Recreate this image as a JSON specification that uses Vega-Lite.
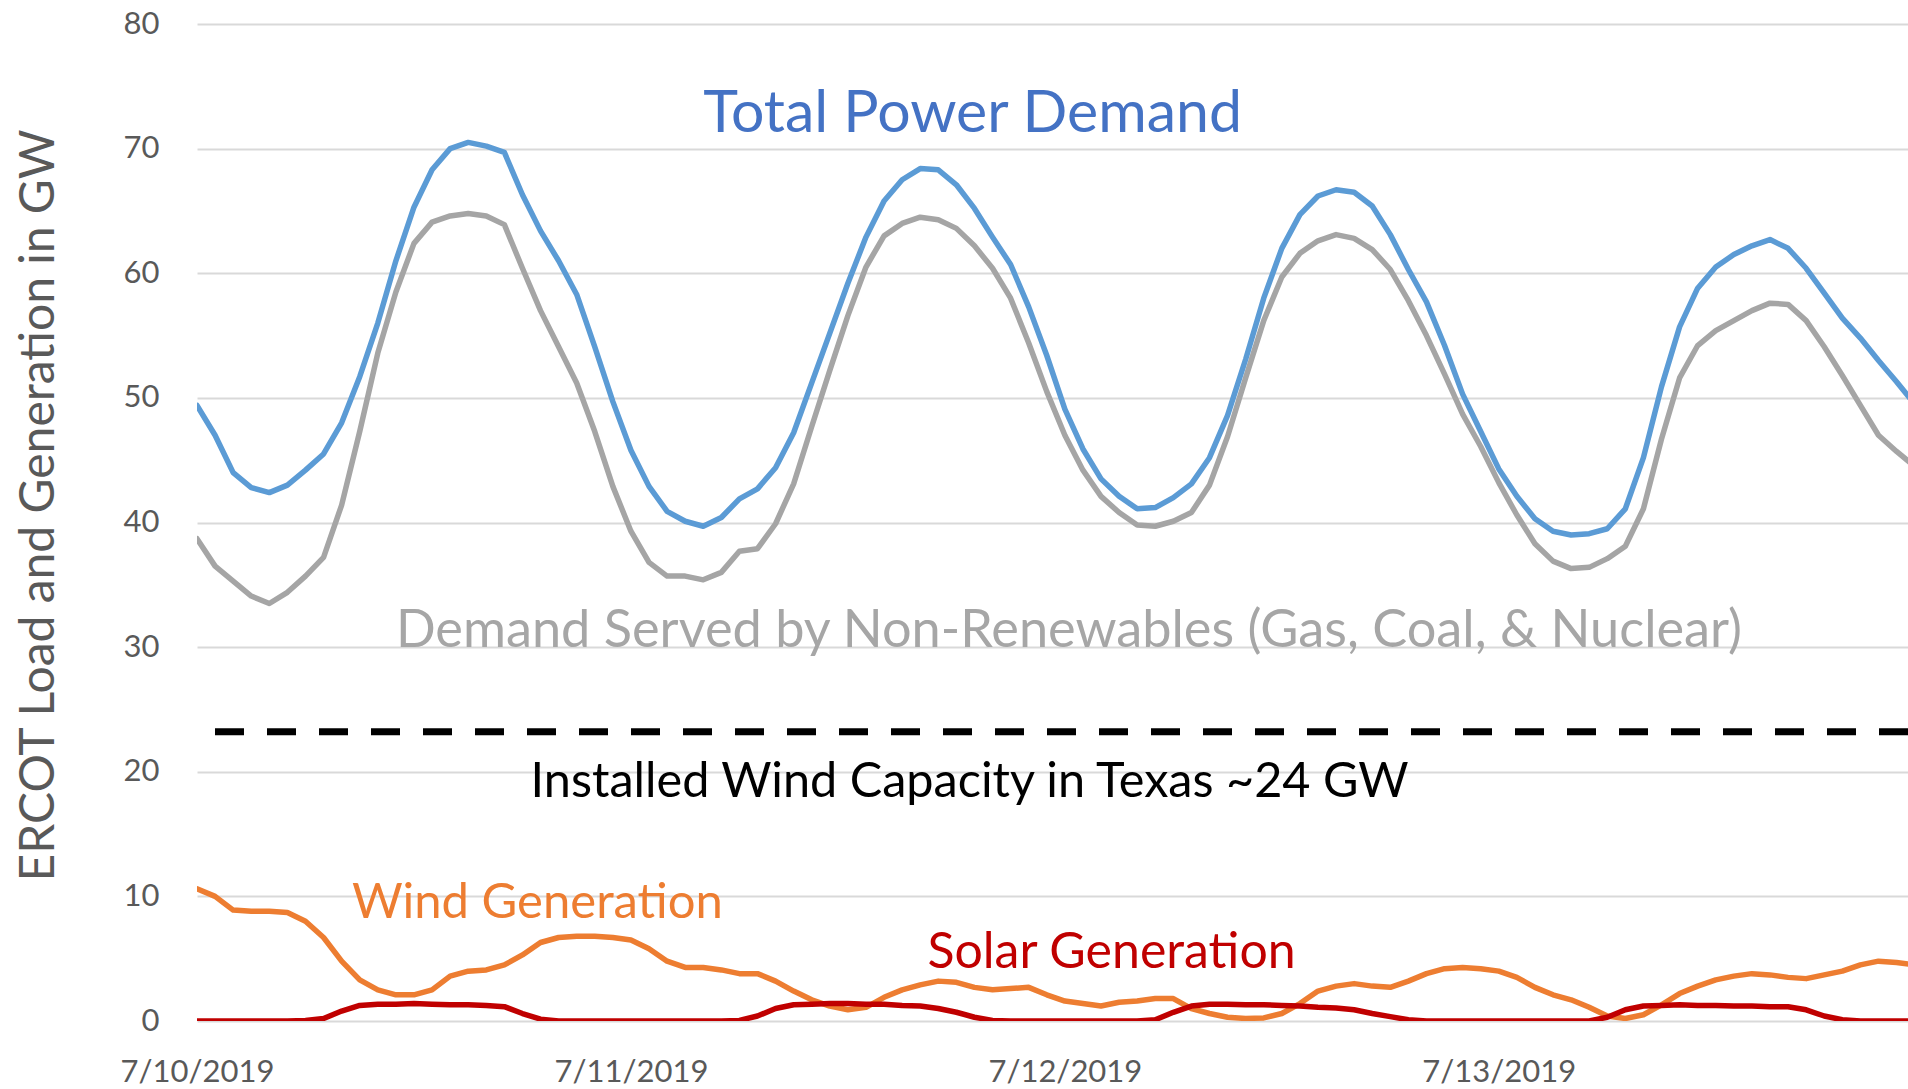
{
  "$schema": "https://vega.github.io/schema/vega-lite/v6.json",
  "width": 1711,
  "height": 997,
  "autosize": {"type": "none"},
  "padding": {"left": 197, "top": 24, "right": 0, "bottom": 68},
  "background": "white",
  "datasets": {
    "ercot": [
      {"t":"2019-07-10T00:00","demand":49.4,"nonrenew":38.7,"wind":10.6,"solar":0},
      {"t":"2019-07-10T01:00","demand":47.0,"nonrenew":36.5,"wind":10.0,"solar":0},
      {"t":"2019-07-10T02:00","demand":44.0,"nonrenew":35.3,"wind":8.9,"solar":0},
      {"t":"2019-07-10T03:00","demand":42.8,"nonrenew":34.1,"wind":8.8,"solar":0},
      {"t":"2019-07-10T04:00","demand":42.4,"nonrenew":33.5,"wind":8.8,"solar":0},
      {"t":"2019-07-10T05:00","demand":43.0,"nonrenew":34.4,"wind":8.7,"solar":0},
      {"t":"2019-07-10T06:00","demand":44.2,"nonrenew":35.7,"wind":8.0,"solar":0.05},
      {"t":"2019-07-10T07:00","demand":45.5,"nonrenew":37.2,"wind":6.7,"solar":0.2},
      {"t":"2019-07-10T08:00","demand":48.0,"nonrenew":41.4,"wind":4.8,"solar":0.8},
      {"t":"2019-07-10T09:00","demand":51.7,"nonrenew":47.3,"wind":3.3,"solar":1.25},
      {"t":"2019-07-10T10:00","demand":56.0,"nonrenew":53.6,"wind":2.5,"solar":1.35},
      {"t":"2019-07-10T11:00","demand":61.0,"nonrenew":58.5,"wind":2.1,"solar":1.35},
      {"t":"2019-07-10T12:00","demand":65.3,"nonrenew":62.4,"wind":2.1,"solar":1.4},
      {"t":"2019-07-10T13:00","demand":68.3,"nonrenew":64.1,"wind":2.5,"solar":1.35},
      {"t":"2019-07-10T14:00","demand":70.0,"nonrenew":64.6,"wind":3.6,"solar":1.3},
      {"t":"2019-07-10T15:00","demand":70.5,"nonrenew":64.8,"wind":4.0,"solar":1.3},
      {"t":"2019-07-10T16:00","demand":70.2,"nonrenew":64.6,"wind":4.1,"solar":1.25},
      {"t":"2019-07-10T17:00","demand":69.7,"nonrenew":63.9,"wind":4.5,"solar":1.15},
      {"t":"2019-07-10T18:00","demand":66.3,"nonrenew":60.4,"wind":5.3,"solar":0.6},
      {"t":"2019-07-10T19:00","demand":63.4,"nonrenew":57.0,"wind":6.3,"solar":0.15},
      {"t":"2019-07-10T20:00","demand":61.0,"nonrenew":54.1,"wind":6.7,"solar":0},
      {"t":"2019-07-10T21:00","demand":58.3,"nonrenew":51.2,"wind":6.8,"solar":0},
      {"t":"2019-07-10T22:00","demand":54.1,"nonrenew":47.3,"wind":6.8,"solar":0},
      {"t":"2019-07-10T23:00","demand":49.7,"nonrenew":42.9,"wind":6.7,"solar":0},
      {"t":"2019-07-11T00:00","demand":45.8,"nonrenew":39.3,"wind":6.5,"solar":0},
      {"t":"2019-07-11T01:00","demand":42.9,"nonrenew":36.8,"wind":5.8,"solar":0},
      {"t":"2019-07-11T02:00","demand":40.9,"nonrenew":35.7,"wind":4.8,"solar":0},
      {"t":"2019-07-11T03:00","demand":40.1,"nonrenew":35.7,"wind":4.3,"solar":0},
      {"t":"2019-07-11T04:00","demand":39.7,"nonrenew":35.4,"wind":4.3,"solar":0},
      {"t":"2019-07-11T05:00","demand":40.4,"nonrenew":36.0,"wind":4.1,"solar":0},
      {"t":"2019-07-11T06:00","demand":41.9,"nonrenew":37.7,"wind":3.8,"solar":0.05},
      {"t":"2019-07-11T07:00","demand":42.7,"nonrenew":37.9,"wind":3.8,"solar":0.4},
      {"t":"2019-07-11T08:00","demand":44.4,"nonrenew":39.9,"wind":3.2,"solar":1.0},
      {"t":"2019-07-11T09:00","demand":47.2,"nonrenew":43.1,"wind":2.4,"solar":1.3},
      {"t":"2019-07-11T10:00","demand":51.2,"nonrenew":47.7,"wind":1.7,"solar":1.35},
      {"t":"2019-07-11T11:00","demand":55.2,"nonrenew":52.2,"wind":1.2,"solar":1.4},
      {"t":"2019-07-11T12:00","demand":59.2,"nonrenew":56.6,"wind":0.9,"solar":1.4},
      {"t":"2019-07-11T13:00","demand":62.9,"nonrenew":60.5,"wind":1.1,"solar":1.35},
      {"t":"2019-07-11T14:00","demand":65.8,"nonrenew":63.0,"wind":1.9,"solar":1.35},
      {"t":"2019-07-11T15:00","demand":67.5,"nonrenew":64.0,"wind":2.5,"solar":1.25},
      {"t":"2019-07-11T16:00","demand":68.4,"nonrenew":64.5,"wind":2.9,"solar":1.2},
      {"t":"2019-07-11T17:00","demand":68.3,"nonrenew":64.3,"wind":3.2,"solar":1.0},
      {"t":"2019-07-11T18:00","demand":67.1,"nonrenew":63.6,"wind":3.1,"solar":0.7},
      {"t":"2019-07-11T19:00","demand":65.2,"nonrenew":62.2,"wind":2.7,"solar":0.3},
      {"t":"2019-07-11T20:00","demand":62.9,"nonrenew":60.4,"wind":2.5,"solar":0.05},
      {"t":"2019-07-11T21:00","demand":60.7,"nonrenew":58.0,"wind":2.6,"solar":0},
      {"t":"2019-07-11T22:00","demand":57.3,"nonrenew":54.4,"wind":2.7,"solar":0},
      {"t":"2019-07-11T23:00","demand":53.4,"nonrenew":50.5,"wind":2.1,"solar":0},
      {"t":"2019-07-12T00:00","demand":49.1,"nonrenew":47.0,"wind":1.6,"solar":0},
      {"t":"2019-07-12T01:00","demand":45.9,"nonrenew":44.2,"wind":1.4,"solar":0},
      {"t":"2019-07-12T02:00","demand":43.5,"nonrenew":42.1,"wind":1.2,"solar":0},
      {"t":"2019-07-12T03:00","demand":42.1,"nonrenew":40.8,"wind":1.5,"solar":0},
      {"t":"2019-07-12T04:00","demand":41.1,"nonrenew":39.8,"wind":1.6,"solar":0},
      {"t":"2019-07-12T05:00","demand":41.2,"nonrenew":39.7,"wind":1.8,"solar":0.1},
      {"t":"2019-07-12T06:00","demand":42.0,"nonrenew":40.1,"wind":1.8,"solar":0.7},
      {"t":"2019-07-12T07:00","demand":43.1,"nonrenew":40.8,"wind":1.0,"solar":1.2},
      {"t":"2019-07-12T08:00","demand":45.2,"nonrenew":43.0,"wind":0.6,"solar":1.35},
      {"t":"2019-07-12T09:00","demand":48.6,"nonrenew":46.9,"wind":0.3,"solar":1.35},
      {"t":"2019-07-12T10:00","demand":53.1,"nonrenew":51.6,"wind":0.2,"solar":1.3},
      {"t":"2019-07-12T11:00","demand":58.0,"nonrenew":56.2,"wind":0.25,"solar":1.3},
      {"t":"2019-07-12T12:00","demand":62.0,"nonrenew":59.7,"wind":0.6,"solar":1.25},
      {"t":"2019-07-12T13:00","demand":64.7,"nonrenew":61.6,"wind":1.4,"solar":1.2},
      {"t":"2019-07-12T14:00","demand":66.2,"nonrenew":62.6,"wind":2.4,"solar":1.1},
      {"t":"2019-07-12T15:00","demand":66.7,"nonrenew":63.1,"wind":2.8,"solar":1.05},
      {"t":"2019-07-12T16:00","demand":66.5,"nonrenew":62.8,"wind":3.0,"solar":0.9},
      {"t":"2019-07-12T17:00","demand":65.4,"nonrenew":61.9,"wind":2.8,"solar":0.6},
      {"t":"2019-07-12T18:00","demand":63.1,"nonrenew":60.3,"wind":2.7,"solar":0.35},
      {"t":"2019-07-12T19:00","demand":60.3,"nonrenew":57.8,"wind":3.2,"solar":0.1},
      {"t":"2019-07-12T20:00","demand":57.7,"nonrenew":55.0,"wind":3.8,"solar":0},
      {"t":"2019-07-12T21:00","demand":54.2,"nonrenew":51.9,"wind":4.2,"solar":0},
      {"t":"2019-07-12T22:00","demand":50.3,"nonrenew":48.7,"wind":4.3,"solar":0},
      {"t":"2019-07-12T23:00","demand":47.3,"nonrenew":46.1,"wind":4.2,"solar":0},
      {"t":"2019-07-13T00:00","demand":44.3,"nonrenew":43.2,"wind":4.0,"solar":0},
      {"t":"2019-07-13T01:00","demand":42.1,"nonrenew":40.6,"wind":3.5,"solar":0},
      {"t":"2019-07-13T02:00","demand":40.3,"nonrenew":38.3,"wind":2.7,"solar":0},
      {"t":"2019-07-13T03:00","demand":39.3,"nonrenew":36.9,"wind":2.1,"solar":0},
      {"t":"2019-07-13T04:00","demand":39.0,"nonrenew":36.3,"wind":1.7,"solar":0},
      {"t":"2019-07-13T05:00","demand":39.1,"nonrenew":36.4,"wind":1.1,"solar":0},
      {"t":"2019-07-13T06:00","demand":39.5,"nonrenew":37.1,"wind":0.4,"solar":0.3},
      {"t":"2019-07-13T07:00","demand":41.1,"nonrenew":38.1,"wind":0.2,"solar":0.9},
      {"t":"2019-07-13T08:00","demand":45.2,"nonrenew":41.1,"wind":0.5,"solar":1.2},
      {"t":"2019-07-13T09:00","demand":50.9,"nonrenew":46.7,"wind":1.3,"solar":1.25},
      {"t":"2019-07-13T10:00","demand":55.7,"nonrenew":51.6,"wind":2.2,"solar":1.3},
      {"t":"2019-07-13T11:00","demand":58.8,"nonrenew":54.2,"wind":2.8,"solar":1.25},
      {"t":"2019-07-13T12:00","demand":60.5,"nonrenew":55.4,"wind":3.3,"solar":1.25},
      {"t":"2019-07-13T13:00","demand":61.5,"nonrenew":56.2,"wind":3.6,"solar":1.2},
      {"t":"2019-07-13T14:00","demand":62.2,"nonrenew":57.0,"wind":3.8,"solar":1.2},
      {"t":"2019-07-13T15:00","demand":62.7,"nonrenew":57.6,"wind":3.7,"solar":1.15},
      {"t":"2019-07-13T16:00","demand":62.0,"nonrenew":57.5,"wind":3.5,"solar":1.15},
      {"t":"2019-07-13T17:00","demand":60.4,"nonrenew":56.2,"wind":3.4,"solar":0.9},
      {"t":"2019-07-13T18:00","demand":58.4,"nonrenew":54.1,"wind":3.7,"solar":0.4},
      {"t":"2019-07-13T19:00","demand":56.4,"nonrenew":51.8,"wind":4.0,"solar":0.1},
      {"t":"2019-07-13T20:00","demand":54.8,"nonrenew":49.4,"wind":4.5,"solar":0},
      {"t":"2019-07-13T21:00","demand":53.0,"nonrenew":47.0,"wind":4.8,"solar":0},
      {"t":"2019-07-13T22:00","demand":51.3,"nonrenew":45.7,"wind":4.7,"solar":0},
      {"t":"2019-07-13T23:00","demand":49.5,"nonrenew":44.5,"wind":4.5,"solar":0}
    ]
  },
  "layer": [
    {
      "data": {"name": "ercot"},
      "mark": {"type": "line", "color": "#A5A5A5", "strokeWidth": 5.5, "strokeJoin": "round", "strokeCap": "round", "clip": true},
      "encoding": {
        "x": {"field": "t", "type": "temporal", "title": null,
              "scale": {"domain": [{"year": 2019, "month": 7, "date": 10, "hours": 0}, {"year": 2019, "month": 7, "date": 13, "hours": 22, "minutes": 38}]},
              "axis": {"values": [{"year": 2019, "month": 7, "date": 10}, {"year": 2019, "month": 7, "date": 11}, {"year": 2019, "month": 7, "date": 12}, {"year": 2019, "month": 7, "date": 13}],
                       "format": "%-m/%-d/%Y", "grid": false, "domain": false, "ticks": false, "tickSize": 0,
                       "labelFont": "Lato", "labelFontSize": 31, "labelColor": "#595959", "labelPadding": 36,
                       "labelFlush": false, "labelBound": false, "labelOverlap": false}},
        "y": {"field": "nonrenew", "type": "quantitative", "title": "ERCOT Load and Generation in GW",
              "scale": {"domain": [0, 80], "nice": false, "zero": true},
              "axis": {"values": [0, 10, 20, 30, 40, 50, 60, 70, 80], "grid": true, "gridColor": "#D9D9D9", "gridWidth": 2,
                       "domain": false, "ticks": false, "tickSize": 0,
                       "labelFont": "Lato", "labelFontSize": 31, "labelColor": "#595959", "labelPadding": 38,
                       "titleFont": "Lato", "titleFontSize": 48, "titleFontWeight": "normal", "titleColor": "#595959",
                       "titleX": -158, "titleY": 481, "titleAngle": -90, "titleAlign": "center", "titleBaseline": "middle"}}
      }
    },
    {
      "data": {"name": "ercot"},
      "mark": {"type": "line", "color": "#5B9BD5", "strokeWidth": 5.5, "strokeJoin": "round", "strokeCap": "round", "clip": true},
      "encoding": {
        "x": {"field": "t", "type": "temporal", "title": null},
        "y": {"field": "demand", "type": "quantitative", "title": "ERCOT Load and Generation in GW"}
      }
    },
    {
      "data": {"name": "ercot"},
      "mark": {"type": "line", "color": "#ED7D31", "strokeWidth": 5.5, "strokeJoin": "round", "strokeCap": "round", "clip": true},
      "encoding": {
        "x": {"field": "t", "type": "temporal", "title": null},
        "y": {"field": "wind", "type": "quantitative", "title": "ERCOT Load and Generation in GW"}
      }
    },
    {
      "data": {"name": "ercot"},
      "mark": {"type": "line", "color": "#C00000", "strokeWidth": 5.5, "strokeJoin": "round", "strokeCap": "round", "clip": true},
      "encoding": {
        "x": {"field": "t", "type": "temporal", "title": null},
        "y": {"field": "solar", "type": "quantitative", "title": "ERCOT Load and Generation in GW"}
      }
    },
    {
      "data": {"values": [{"capacity": 23.2}]},
      "mark": {"type": "rule", "color": "#000000", "strokeWidth": 7, "strokeDash": [29, 23]},
      "encoding": {
        "y": {"field": "capacity", "type": "quantitative", "title": "ERCOT Load and Generation in GW"}
      }
    },
    {
      "data": {"values": [{"t": "2019-07-11T04:00", "v": 71.33, "label": "Total Power Demand"}]},
      "mark": {"type": "text", "font": "Lato", "fontSize": 59, "color": "#4472C4", "align": "left", "baseline": "alphabetic"},
      "encoding": {
        "x": {"field": "t", "type": "temporal", "title": null},
        "y": {"field": "v", "type": "quantitative", "title": "ERCOT Load and Generation in GW"},
        "text": {"field": "label"}
      }
    },
    {
      "data": {"values": [{"t": "2019-07-10T11:00", "v": 30.0, "label": "Demand Served by Non-Renewables (Gas, Coal, & Nuclear)"}]},
      "mark": {"type": "text", "font": "Lato", "fontSize": 52.3, "color": "#A6A6A6", "align": "left", "baseline": "alphabetic"},
      "encoding": {
        "x": {"field": "t", "type": "temporal", "title": null},
        "y": {"field": "v", "type": "quantitative", "title": "ERCOT Load and Generation in GW"},
        "text": {"field": "label"}
      }
    },
    {
      "data": {"values": [{"t": "2019-07-10T18:27", "v": 17.97, "label": "Installed Wind Capacity in Texas ~24 GW"}]},
      "mark": {"type": "text", "font": "Lato", "fontSize": 48.6, "color": "#000000", "align": "left", "baseline": "alphabetic"},
      "encoding": {
        "x": {"field": "t", "type": "temporal", "title": null},
        "y": {"field": "v", "type": "quantitative", "title": "ERCOT Load and Generation in GW"},
        "text": {"field": "label"}
      }
    },
    {
      "data": {"values": [{"t": "2019-07-10T08:34", "v": 8.26, "label": "Wind Generation"}]},
      "mark": {"type": "text", "font": "Lato", "fontSize": 49, "color": "#ED7D31", "align": "left", "baseline": "alphabetic"},
      "encoding": {
        "x": {"field": "t", "type": "temporal", "title": null},
        "y": {"field": "v", "type": "quantitative", "title": "ERCOT Load and Generation in GW"},
        "text": {"field": "label"}
      }
    },
    {
      "data": {"values": [{"t": "2019-07-11T16:24", "v": 4.25, "label": "Solar Generation"}]},
      "mark": {"type": "text", "font": "Lato", "fontSize": 50, "color": "#C00000", "align": "left", "baseline": "alphabetic"},
      "encoding": {
        "x": {"field": "t", "type": "temporal", "title": null},
        "y": {"field": "v", "type": "quantitative", "title": "ERCOT Load and Generation in GW"},
        "text": {"field": "label"}
      }
    }
  ],
  "config": {
    "view": {"stroke": null}
  }
}
